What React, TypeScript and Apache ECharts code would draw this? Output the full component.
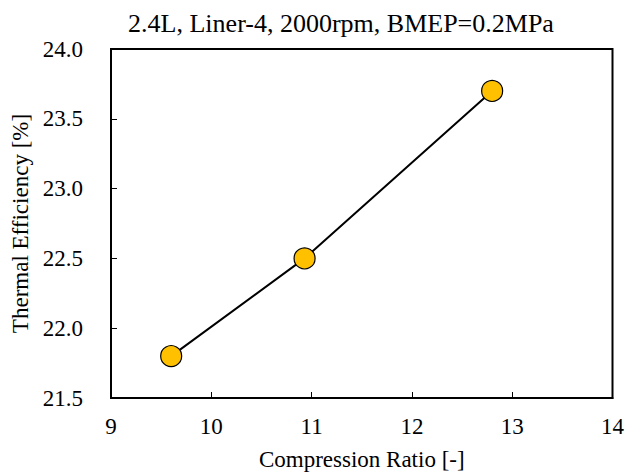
import React, { useEffect, useRef } from "react";
import * as echarts from "echarts";

const titleText = "2.4L, Liner-4, 2000rpm, BMEP=0.2MPa";
const xName = "Compression Ratio [-]";
const yName = "Thermal Efficiency [%]";
const compressionRatio = [9.6, 10.93, 12.8];
const thermalEfficiency = [21.8, 22.5, 23.7];

export default function App() {
  const ref = useRef<HTMLDivElement>(null);
  useEffect(() => {
    if (!ref.current) return;
    const chart = echarts.init(ref.current, undefined, { renderer: "svg" });
    const font = "'Liberation Serif', 'Times New Roman', serif";
    chart.setOption({
      animation: false,
      backgroundColor: "#ffffff",
      textStyle: { fontFamily: font },
      title: {
        text: titleText,
        left: 341,
        textAlign: "center",
        top: 10,
        padding: 0,
        textStyle: { fontFamily: font, fontSize: 26, fontWeight: "normal", color: "#000" },
      },
      grid: {
        left: 111,
        right: 9,
        top: 49,
        bottom: 75,
        show: true,
        borderColor: "#000",
        borderWidth: 2,
        backgroundColor: "transparent",
      },
      xAxis: {
        type: "value",
        min: 9,
        max: 14,
        interval: 1,
        name: xName,
        nameLocation: "middle",
        nameGap: 50,
        nameTextStyle: { fontFamily: font, fontSize: 23, color: "#000" },
        axisLine: { show: true, lineStyle: { color: "#000", width: 2 } },
        axisTick: { show: true, inside: true, length: 6, lineStyle: { color: "#000", width: 1 } },
        axisLabel: { fontFamily: font, fontSize: 23, color: "#000", margin: 17 },
        splitLine: { show: false },
      },
      yAxis: {
        type: "value",
        min: 21.5,
        max: 24,
        interval: 0.5,
        name: yName,
        nameLocation: "middle",
        nameGap: 76,
        nameTextStyle: { fontFamily: font, fontSize: 23, color: "#000" },
        axisLine: { show: true, lineStyle: { color: "#000", width: 2 } },
        axisTick: { show: true, inside: true, length: 6, lineStyle: { color: "#000", width: 1 } },
        axisLabel: {
          fontFamily: font,
          fontSize: 23,
          color: "#000",
          margin: 28,
          formatter: (v: number) => v.toFixed(1),
        },
        splitLine: { show: false },
      },
      series: [
        {
          type: "line",
          data: compressionRatio.map((x, i) => [x, thermalEfficiency[i]]),
          symbol: "circle",
          symbolSize: 21,
          lineStyle: { color: "#000", width: 2 },
          itemStyle: { color: "#FFC000", borderColor: "#000", borderWidth: 1.2 },
        },
      ],
    });
    return () => chart.dispose();
  }, []);
  return <div ref={ref} style={{ width: 627, height: 476, position: "absolute", left: 0, top: 0 }} />;
}
